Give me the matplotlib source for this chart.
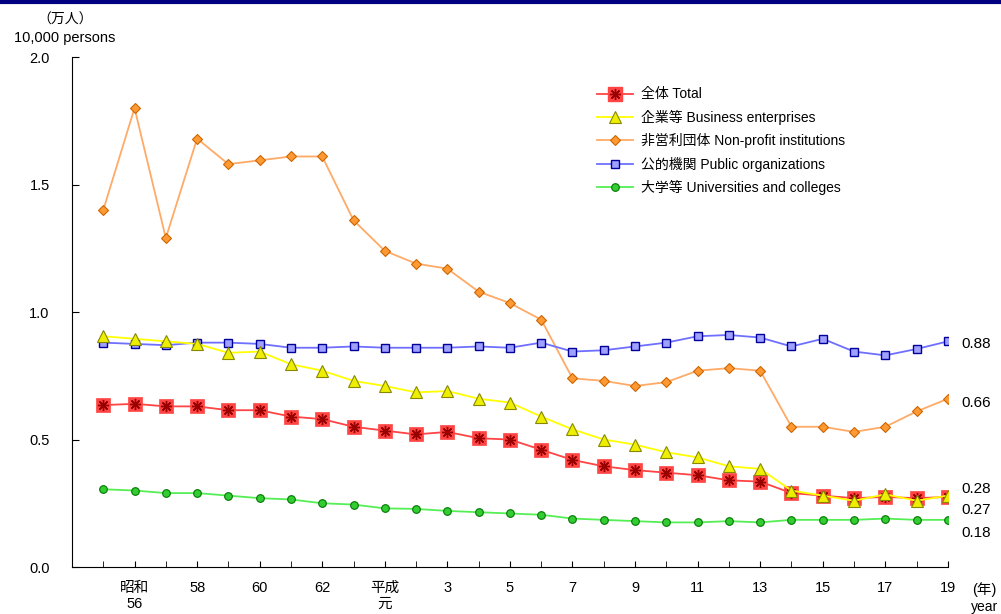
import matplotlib
matplotlib.use('Agg')
import matplotlib.pyplot as plt
from matplotlib.lines import Line2D

plt.rcParams['font.family'] = ['Liberation Sans', 'Noto Sans CJK JP', 'DejaVu Sans']

# data (10,000 persons), fiscal years 1980 (昭和55) .. 2007 (平成19)
years = list(range(1980, 2008))
total = [0.635, 0.64, 0.63, 0.63, 0.615, 0.615, 0.59, 0.58, 0.55, 0.535,
         0.52, 0.53, 0.505, 0.50, 0.46, 0.42, 0.395, 0.38, 0.37, 0.36,
         0.34, 0.335, 0.29, 0.28, 0.27, 0.275, 0.27, 0.275]
business = [0.905, 0.895, 0.885, 0.875, 0.84, 0.845, 0.795, 0.77, 0.73, 0.71,
            0.685, 0.69, 0.66, 0.645, 0.59, 0.54, 0.50, 0.48, 0.45, 0.43,
            0.395, 0.385, 0.30, 0.28, 0.26, 0.285, 0.26, 0.28]
nonprofit = [1.40, 1.80, 1.29, 1.68, 1.58, 1.595, 1.61, 1.61, 1.36, 1.24,
             1.19, 1.17, 1.08, 1.035, 0.97, 0.74, 0.73, 0.71, 0.725, 0.77,
             0.78, 0.77, 0.55, 0.55, 0.53, 0.55, 0.61, 0.66]
public = [0.88, 0.875, 0.87, 0.88, 0.88, 0.875, 0.86, 0.86, 0.865, 0.86,
          0.86, 0.86, 0.865, 0.86, 0.88, 0.845, 0.85, 0.865, 0.88, 0.905,
          0.91, 0.90, 0.865, 0.895, 0.845, 0.83, 0.855, 0.885]
univ = [0.305, 0.30, 0.29, 0.29, 0.28, 0.27, 0.265, 0.25, 0.245, 0.23,
        0.228, 0.22, 0.215, 0.21, 0.205, 0.19, 0.185, 0.18, 0.175, 0.175,
        0.18, 0.175, 0.185, 0.185, 0.185, 0.19, 0.185, 0.185]

tick_years = list(range(1981, 2008, 2))
tick_labels = ['昭和\n56', '58', '60', '62', '平成\n元', '3', '5', '7', '9',
               '11', '13', '15', '17', '19']

end_labels = ['0.88', '0.66', '0.28', '0.27', '0.18']
end_label_y = [0.875, 0.645, 0.305, 0.225, 0.135]

fig = plt.figure(figsize=(10.01, 6.14), dpi=100)
ax = fig.add_axes([0.0719, 0.0765, 0.875, 0.8306])

# top rule
fig.add_artist(Line2D([0, 1], [0.997, 0.997], transform=fig.transFigure,
                      color='#000080', lw=3))

ax.plot(years, nonprofit, color='#ffaa66', lw=1.3, marker='D', ms=5,
        mfc='#ff9933', mec='#cc6600', mew=0.8, zorder=3)
ax.plot(years, public, color='#6f6fff', lw=1.3, marker='s', ms=6,
        mfc='#a0a0ff', mec='#000099', mew=1.0, zorder=3)
ax.plot(years, univ, color='#55ee55', lw=1.3, marker='o', ms=5.5,
        mfc='#33cc33', mec='#007700', mew=0.8, zorder=3)
ax.plot(years, total, color='#ff4444', lw=1.3, marker='s', ms=9.5,
        mfc='#ff4444', mec='#ff4444', mew=0.5, zorder=4)
ax.plot(years, total, ls='none', marker=(8, 2, 0), ms=8, mec='#990000', mew=1.0, zorder=5)
ax.plot(years, business, color='#ffff00', lw=1.3, marker='^', ms=8,
        mfc='#eeee00', mec='#888800', mew=0.8, zorder=6)

# legend built with proxies to keep the order of the original
h_total = (Line2D([], [], color='#ff4444', lw=1.3, marker='s', ms=9.5, mfc='#ff4444', mec='#ff4444'),
           Line2D([], [], ls='none', marker=(8, 2, 0), ms=8, mec='#990000', mew=1.0))
h_bus = Line2D([], [], color='#ffff00', lw=1.3, marker='^', ms=8, mfc='#eeee00', mec='#888800', mew=0.8)
h_np = Line2D([], [], color='#ffaa66', lw=1.3, marker='D', ms=5, mfc='#ff9933', mec='#cc6600', mew=0.8)
h_pub = Line2D([], [], color='#6f6fff', lw=1.3, marker='s', ms=6, mfc='#a0a0ff', mec='#000099', mew=1.0)
h_uni = Line2D([], [], color='#55ee55', lw=1.3, marker='o', ms=5.5, mfc='#33cc33', mec='#007700', mew=0.8)
ax.legend([h_total, h_bus, h_np, h_pub, h_uni],
          ['全体 Total', '企業等 Business enterprises', '非営利団体 Non-profit institutions',
           '公的機関 Public organizations', '大学等 Universities and colleges'],
          loc='upper left', bbox_to_anchor=(0.585, 0.965), frameon=False, fontsize=10,
          handlelength=2.6, labelspacing=0.6, handletextpad=0.55)

ax.set_xlim(1979, 2007)
ax.set_ylim(0, 2.0)
ax.set_yticks([0, 0.5, 1.0, 1.5, 2.0])
ax.set_yticklabels(['0.0', '0.5', '1.0', '1.5', '2.0'], fontsize=10.5)
ax.set_xticks(years, minor=True)
ax.set_xticks(tick_years)
ax.set_xticklabels(tick_labels, fontsize=10.5, linespacing=1.15)
ax.tick_params(axis='y', direction='in', length=5, pad=16)
ax.tick_params(axis='x', which='both', direction='in', length=4, pad=10)
ax.spines['top'].set_visible(False)
ax.spines['right'].set_visible(False)

for lab, yv in zip(end_labels, end_label_y):
    ax.annotate(lab, (2007, yv), xytext=(10, 0), textcoords='offset points',
                va='center', ha='left', fontsize=11, annotation_clip=False)

fig.text(0.065, 0.968, '（万人）', ha='center', va='center', fontsize=10)
fig.text(0.065, 0.938, '10,000 persons', ha='center', va='center', fontsize=10.5)
fig.text(0.983, 0.040, '(年)', ha='center', va='center', fontsize=10.5)
fig.text(0.984, 0.012, 'year', ha='center', va='center', fontsize=10)

fig.savefig('out.png', dpi=100)
